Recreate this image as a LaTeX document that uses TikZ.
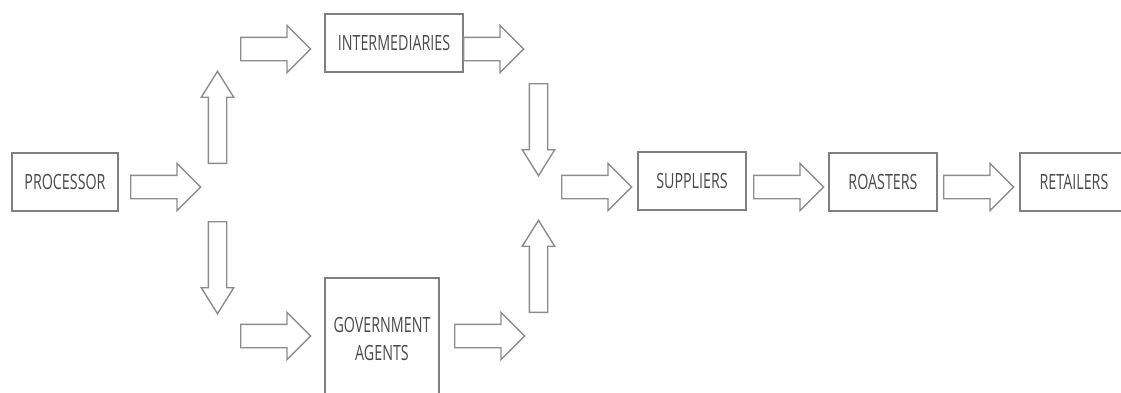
\documentclass[tikz,border=0pt]{standalone}
\usepackage{fontspec}
\setmainfont{Open Sans}[FakeStretch=0.68]
\usetikzlibrary{shapes.arrows}
\definecolor{box-line}{HTML}{7F7F7F}
\definecolor{box-text}{HTML}{4A4A4A}
\definecolor{arrow-line}{HTML}{8C8C8C}

\begin{document}
\begin{tikzpicture}[x=1pt, y=-1pt,
        every node/.style={font=\fontsize{21}{28}\selectfont, text=box-text},
        stage/.style={draw=box-line, line width=1.6pt, fill=white, align=center, minimum height=58pt},
        flowh/.style={single arrow, draw=arrow-line, line width=1.4pt, single arrow head extend=12pt,
            minimum width=1pt, minimum height=70pt, inner xsep=0pt, inner ysep=11pt,
            text height=0pt, text depth=0pt, anchor=tail},
        flowv/.style={flowh, single arrow head extend=7pt, minimum height=92pt, inner ysep=8.5pt,
            single arrow tip angle=64}]
      \useasboundingbox (0,0) rectangle (1121,392);
      \clip (0,0) rectangle (1121,392);
      % stages
      \node[stage, minimum width=106pt] (proc) at (65,182) {PROCESSOR};
      \node[stage, minimum width=138pt] (inter) at (394,43) {INTERMEDIARIES};
      \node[stage, minimum width=114pt, minimum height=122pt] (govt) at (382,339) {GOVERNMENT\\AGENTS};
      \node[stage, minimum width=108pt] (supp) at (692,181) {SUPPLIERS};
      \node[stage, minimum width=108pt] (roast) at (883,182) {ROASTERS};
      \node[stage, minimum width=108pt] (retail) at (1074,182) {RETAILERS};
      % block arrows, placed by their tails
      \node[flowh] (toJunc) at (130,187) {};
      \node[flowv, rotate=90] (upTop) at (217.5,164) {};
      \node[flowh] (toInter) at (240,49) {};
      \node[flowh, minimum height=60pt] (fromInter) at (463,49) {};
      \node[flowv, rotate=-90] (downMid) at (538.5,83) {};
      \node[flowv, rotate=-90] (downBot) at (217.5,221) {};
      \node[flowh] (toGovt) at (240,336) {};
      \node[flowh] (fromGovt) at (454,336) {};
      \node[flowv, rotate=90] (upMid) at (538.5,313) {};
      \node[flowh] (toSupp) at (561,187) {};
      \node[flowh] (toRoast) at (753,187) {};
      \node[flowh] (toRetail) at (943,187) {};
\end{tikzpicture}
\end{document}
